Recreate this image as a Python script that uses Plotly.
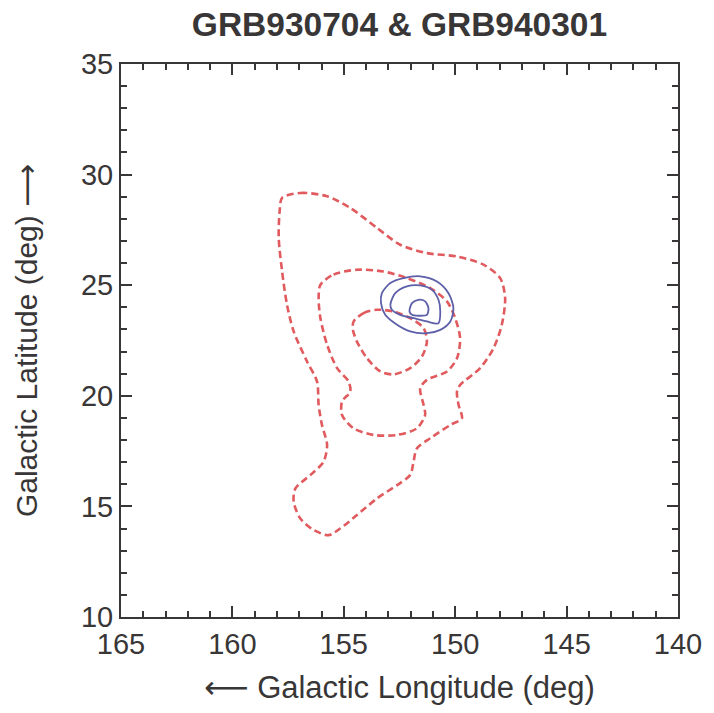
import plotly.graph_objects as go

# Probability contours in galactic coordinates (lon, lat in degrees)
# GRB930704: three nested confidence levels (dashed red)
grb930704_outer_lon = [157.77, 156.95, 155.75, 154.71, 153.51, 152.47, 151.27, 149.92, 148.73, 147.98,
                       147.76, 147.91, 148.28, 148.88, 149.78, 149.92, 149.85, 149.70, 150.22, 151.12,
                       151.72, 151.87, 152.02, 152.61, 153.51, 154.41, 155.16, 155.68, 156.35, 156.95,
                       157.25, 157.17, 156.50, 155.91, 155.75, 155.98, 156.13, 156.20, 156.65, 157.25,
                       157.55, 157.77, 157.92, 157.88]
grb930704_outer_lat = [28.95, 29.17, 29.02, 28.49, 27.59, 26.83, 26.45, 26.30, 25.93, 25.32,
                       24.42, 23.21, 22.15, 21.25, 20.49, 20.19, 19.59, 18.98, 18.68, 18.08,
                       17.62, 17.02, 16.42, 15.96, 15.36, 14.61, 14.00, 13.70, 13.93, 14.45,
                       15.21, 15.81, 16.42, 17.02, 17.78, 18.68, 19.59, 20.64, 21.55, 22.91,
                       24.12, 25.63, 27.13, 28.34]

grb930704_mid_lon = [156.05, 155.46, 154.41, 153.22, 152.17, 151.12, 150.37, 150.00, 149.78, 149.92,
                     150.37, 151.27, 151.57, 151.42, 151.35, 151.72, 152.61, 153.66, 154.56, 155.08,
                     155.08, 154.71, 154.78, 155.30, 155.75, 156.05, 156.13]
grb930704_mid_lat = [25.02, 25.48, 25.70, 25.62, 25.32, 24.87, 24.27, 23.51, 22.60, 21.70,
                     21.10, 20.72, 20.34, 19.59, 19.13, 18.53, 18.23, 18.23, 18.53, 19.13,
                     19.74, 20.19, 20.64, 21.25, 22.31, 23.51, 24.42]

grb930704_inner_lon = [154.56, 154.11, 153.51, 152.77, 152.02, 151.42, 151.27, 151.49, 152.02, 152.77,
                       153.36, 153.96, 154.41, 154.59]
grb930704_inner_lat = [23.36, 23.74, 23.89, 23.81, 23.51, 23.06, 22.45, 21.78, 21.25, 20.97,
                       21.10, 21.70, 22.45, 22.98]

# GRB940301: three nested confidence levels (solid blue)
grb940301_outer_lon = [153.29, 152.91, 152.32, 151.57, 150.82, 150.30, 150.08, 150.22, 150.67, 151.27,
                       152.02, 152.61, 153.14, 153.33]
grb940301_outer_lat = [24.64, 25.10, 25.32, 25.40, 25.17, 24.64, 23.96, 23.36, 22.98, 22.83,
                       22.91, 23.21, 23.66, 24.19]

grb940301_mid_lon = [152.91, 152.69, 152.17, 151.57, 151.05, 150.75, 150.67, 150.75, 151.27, 151.87,
                     152.47, 152.84]
grb940301_mid_lat = [24.12, 24.64, 24.95, 24.99, 24.80, 24.34, 23.81, 23.28, 23.36, 23.51,
                     23.66, 23.89]

grb940301_inner_lon = [152.05, 151.94, 151.65, 151.35, 151.20, 151.27, 151.65, 151.94]
grb940301_inner_lat = [23.81, 24.19, 24.34, 24.27, 23.96, 23.66, 23.62, 23.66]

x_ticks = [165, 160, 155, 150, 145, 140]
y_ticks = [10, 15, 20, 25, 30, 35]

RED = "#e05a5e"
BLUE = "#5d5fa8"
INK = "#383636"
FONT = "Liberation Sans, Arial, DejaVu Sans, sans-serif"


def closed(xs, ys):
    return list(xs) + [xs[0]], list(ys) + [ys[0]]


fig = go.Figure()

for lon, lat in [(grb930704_outer_lon, grb930704_outer_lat),
                 (grb930704_mid_lon, grb930704_mid_lat),
                 (grb930704_inner_lon, grb930704_inner_lat)]:
    xs, ys = closed(lon, lat)
    fig.add_trace(go.Scatter(x=xs, y=ys, mode="lines",
                             line=dict(color=RED, width=2.6, dash="7px,4px", shape="spline", smoothing=0.8),
                             hoverinfo="skip", showlegend=False))

for lon, lat in [(grb940301_outer_lon, grb940301_outer_lat),
                 (grb940301_mid_lon, grb940301_mid_lat),
                 (grb940301_inner_lon, grb940301_inner_lat)]:
    xs, ys = closed(lon, lat)
    fig.add_trace(go.Scatter(x=xs, y=ys, mode="lines",
                             line=dict(color=BLUE, width=1.8, shape="spline", smoothing=0.8),
                             hoverinfo="skip", showlegend=False))

axis_common = dict(
    showgrid=False, zeroline=False,
    showline=True, linecolor=INK, linewidth=2, mirror="ticks",
    ticks="inside", ticklen=11, tickwidth=2, tickcolor=INK,
    minor=dict(ticks="inside", ticklen=6, tickwidth=2, tickcolor=INK, dtick=1, showgrid=False),
    tickfont=dict(family=FONT, size=29, color=INK),
)

fig.update_layout(
    width=714, height=713,
    margin=dict(l=121, r=36, t=64, b=96),
    paper_bgcolor="white", plot_bgcolor="white",
    title=dict(text="<b>GRB930704 & GRB940301</b>", xref="paper", x=0.5, xanchor="center",
               y=0.966, yanchor="middle",
               font=dict(family=FONT, size=33.5, color=INK)),
    xaxis=dict(range=[165, 140], tickvals=x_ticks, **axis_common,
               title=dict(text="\u27f5 Galactic Longitude (deg)", standoff=18,
                          font=dict(family=FONT, size=31, color=INK))),
    yaxis=dict(range=[10, 35], tickvals=y_ticks, **axis_common,
               title=dict(text="Galactic Latitude (deg) \u27f6", standoff=34,
                          font=dict(family=FONT, size=30, color=INK))),
)

fig.write_html("out.html")
